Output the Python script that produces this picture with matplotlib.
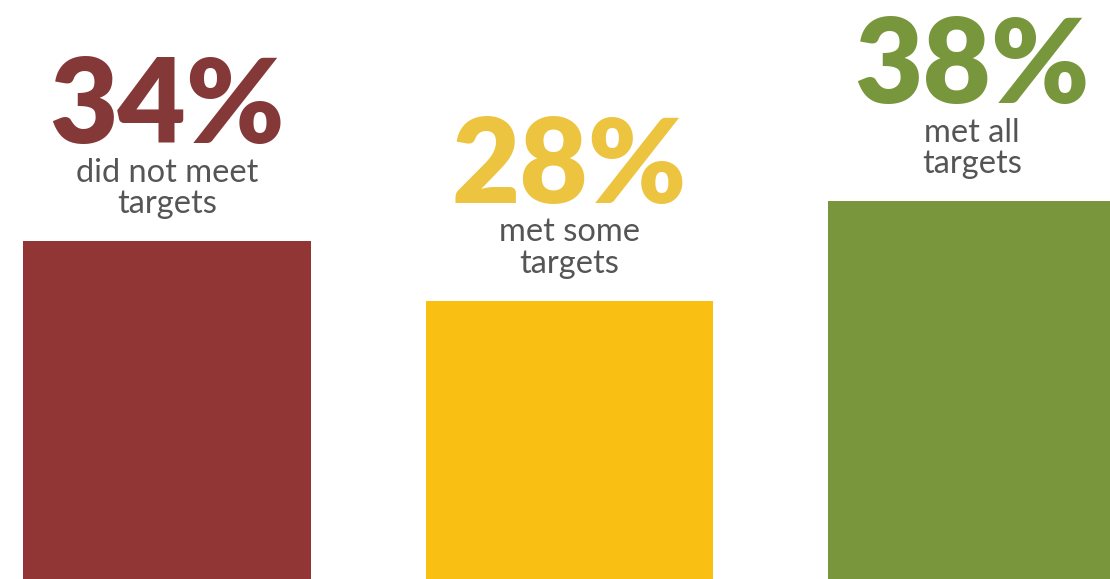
import matplotlib
matplotlib.use('Agg')
import matplotlib.pyplot as plt

# values
shares = [34, 28, 38]
labels = ['did not meet\ntargets', 'met some\ntargets', 'met all\ntargets']
bar_colors = ['#913535', '#f9c013', '#7a963c']
text_colors = ['#843838', '#ecc43f', '#78963c']
label_color = '#555555'

fig = plt.figure(figsize=(11.1, 5.79), dpi=100)
ax = fig.add_axes([0, 0, 1, 1])

x = range(len(shares))
ax.bar(x, shares, width=0.7155, color=bar_colors)

for i, v in enumerate(shares):
    # big percentage above each bar
    ax.annotate(f'{v}%', xy=(i, v), xytext=(0, 98), textcoords='offset pixels',
                ha='center', va='baseline', fontsize=85, fontweight='heavy',
                family='Lato', color=text_colors[i])
    # description text, last line baseline just above the bar
    ax.annotate(labels[i], xy=(i, v), xytext=(0, 28), textcoords='offset pixels',
                ha='center', va='baseline', fontsize=23.5, family='Lato',
                color=label_color, linespacing=1.05)

ax.set_xlim(-0.415, 2.343)
ax.set_ylim(0, 58.25)
ax.axis('off')

fig.savefig('out.png', dpi=100)
